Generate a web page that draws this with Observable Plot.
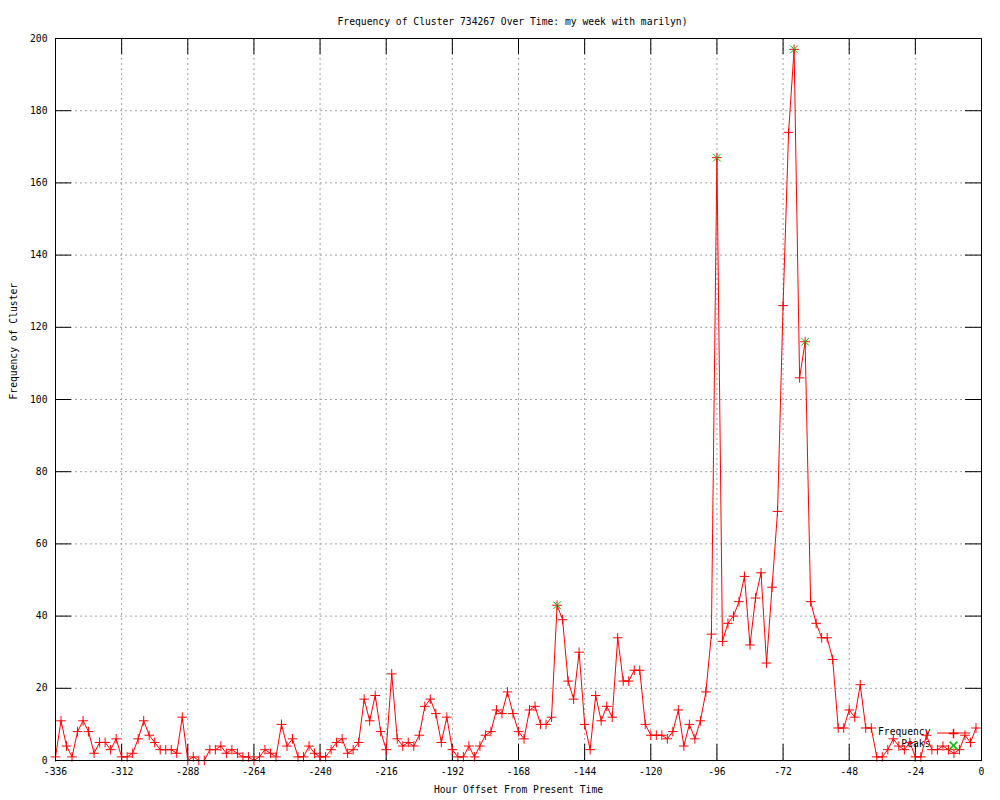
<!DOCTYPE html>
<html>
<head>
<meta charset="utf-8">
<script src="https://cdn.jsdelivr.net/npm/d3@7"></script>
<script src="https://cdn.jsdelivr.net/npm/@observablehq/plot@0.6"></script>
<style>
  html, body { margin: 0; padding: 0; background: #fff; }
  #chart { width: 1000px; height: 800px; }
</style>
</head>
<body>
<div id="chart"></div>
<script>
// Hour offsets (every 2 hours from -336 to -2)
const hours = d3.range(-336, 0, 2);
// Frequency values
const frequency = [
  1, 11, 4, 1, 8, 11, 8, 2, 5, 5, 3, 6,          // -336 .. -314
  1, 1, 2, 6, 11, 7, 5, 3, 3, 3, 2, 12,          // -312 .. -290
  0, 1, 0, 0, 3, 3, 4, 2, 3, 2, 1, 1,            // -288 .. -266
  0, 1, 3, 2, 1, 10, 4, 6, 1, 1, 4, 2,           // -264 .. -242
  1, 1, 3, 5, 6, 2, 3, 5, 17, 11, 18, 8,         // -240 .. -218
  3, 24, 6, 4, 5, 4, 7, 15, 17, 13, 5, 12,       // -216 .. -194
  3, 1, 1, 4, 1, 4, 7, 8, 14, 13, 19, 13,        // -192 .. -170
  8, 6, 14, 15, 10, 10, 12, 43, 39, 22, 17, 30,  // -168 .. -146
  10, 3, 18, 11, 15, 12, 34, 22, 22, 25, 25, 10, // -144 .. -122
  7, 7, 7, 6, 8, 14, 4, 10, 6, 11, 19, 35,       // -120 .. -98
  167, 33, 38, 40, 44, 51, 32, 45, 52, 27, 48, 69, // -96 .. -74
  126, 174, 197, 106, 116, 44, 38, 34, 34, 28, 9, 9, // -72 .. -50
  14, 12, 21, 9, 9, 1, 1, 3, 6, 4, 3, 5,         // -48 .. -26
  1, 1, 7, 3, 3, 4, 3, 2, 3, 7, 5, 9             // -24 .. -2
];
// Detected peaks
const peakHours = [-154, -96, -68, -64];
const peakValues = [43, 167, 197, 116];
// Axis ticks
const xTicks = [-336, -312, -288, -264, -240, -216, -192, -168, -144, -120, -96, -72, -48, -24, 0];
const yTicks = [0, 20, 40, 60, 80, 100, 120, 140, 160, 180, 200];

const titleText = "Frequency of Cluster 734267 Over Time: my week with marilyn)";
const xLabel = "Hour Offset From Present Time";
const yLabel = "Frequency of Cluster";
const seriesNames = ["Frequency", "Peaks"];

const data = hours.map((h, i) => ({hour: h, freq: frequency[i]}));
const peaks = peakHours.map((h, i) => ({hour: h, freq: peakValues[i]}));

const W = 1000, H = 800;
const mL = 55, mR = 19, mT = 38, mB = 40;
const fw = W - mL - mR, fh = H - mT - mB;
const tick = 16;
const font = "'DejaVu Sans Mono', 'Liberation Mono', monospace";
const red = "#ff0000", green = "#00c000", gridColor = "#a0a0a0";
const plusR = 3.2, timesR = 3.6;

const plot = Plot.plot({
  width: W,
  height: H,
  marginLeft: mL,
  marginRight: mR,
  marginTop: mT,
  marginBottom: mB,
  style: {fontFamily: font, fontSize: "9.7px", background: "#fff", color: "#000"},
  x: {domain: [-336, 0]},
  y: {domain: [0, 200]},
  marks: [
    Plot.gridX(xTicks, {stroke: gridColor, strokeOpacity: 1, strokeDasharray: "2,3"}),
    Plot.gridY(yTicks, {stroke: gridColor, strokeOpacity: 1, strokeDasharray: "2,3"}),
    Plot.axisX({ticks: xTicks, tickSize: 0, tickPadding: 8, tickFormat: d => String(d), label: null}),
    Plot.axisY({ticks: yTicks, tickSize: 0, tickPadding: 8, tickFormat: d => String(d), label: null}),
    // inward ticks on all four sides
    Plot.ruleX(xTicks, {x: d => d, insetTop: fh - tick, stroke: "black"}),
    Plot.ruleX(xTicks, {x: d => d, insetBottom: fh - tick, stroke: "black"}),
    Plot.ruleY(yTicks, {y: d => d, insetRight: fw - tick, stroke: "black"}),
    Plot.ruleY(yTicks, {y: d => d, insetLeft: fw - tick, stroke: "black"}),
    // legend text (drawn beneath the data, as in the reference)
    Plot.text([seriesNames[0]], {frameAnchor: "bottom-right", dx: -51, dy: -26, textAnchor: "end", fill: "black"}),
    Plot.text([seriesNames[1]], {frameAnchor: "bottom-right", dx: -51, dy: -14, textAnchor: "end", fill: "black"}),
    Plot.line(data, {x: "hour", y: "freq", stroke: red, strokeWidth: 1}),
    Plot.dot(data, {x: "hour", y: "freq", symbol: "plus", stroke: red, r: plusR, strokeWidth: 1}),
    Plot.dot(peaks, {x: "hour", y: "freq", symbol: "times", stroke: green, r: timesR, strokeWidth: 1}),
    Plot.frame({stroke: "black"}),
    // title and axis labels
    Plot.text([titleText], {frameAnchor: "top", dx: -6, dy: -20, fill: "black"}),
    Plot.text([xLabel], {frameAnchor: "bottom", dy: 32, fill: "black"}),
    Plot.text([yLabel], {frameAnchor: "left", dx: -42, rotate: -90, fill: "black"}),
    // legend symbols
    Plot.dot([0], {frameAnchor: "bottom-right", dx: -28, dy: -27, symbol: "plus", stroke: red, r: plusR}),
    Plot.dot([0], {frameAnchor: "bottom-right", dx: -28, dy: -15, symbol: "times", stroke: green, r: timesR})
  ]
});

// legend line sample
d3.select(plot).append("line")
  .attr("x1", W - mR - 44).attr("x2", W - mR - 11)
  .attr("y1", H - mB - 27).attr("y2", H - mB - 27)
  .attr("stroke", red).attr("stroke-width", 1);

document.getElementById("chart").appendChild(plot);
</script>
</body>
</html>
